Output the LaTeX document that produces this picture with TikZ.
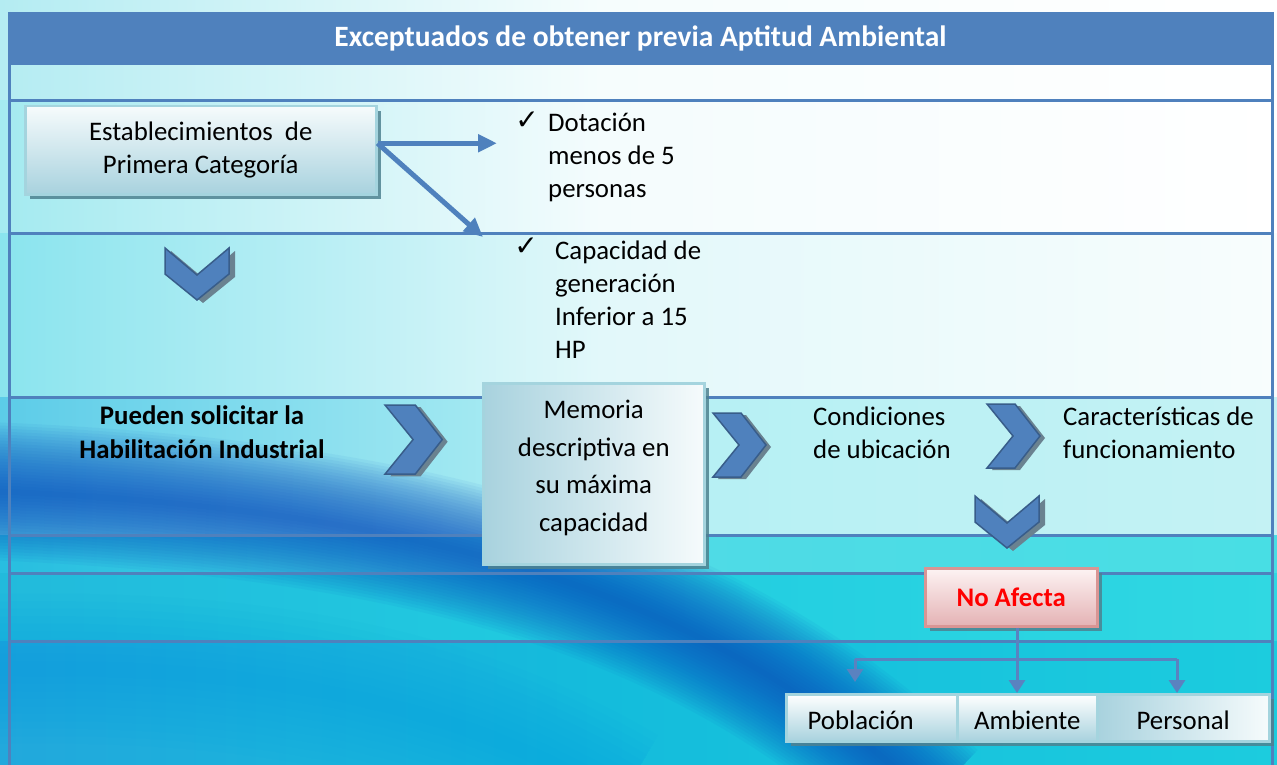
\documentclass[tikz,border=0pt]{standalone}
\usepackage{fontspec}
\setmainfont{Carlito}
\newfontfamily\symbfont{DejaVu Sans}
\usetikzlibrary{arrows.meta,calc,shadows}

\definecolor{hdrblue}{HTML}{4F81BD}
\definecolor{chevedge}{HTML}{385D8A}
\definecolor{chevshade}{HTML}{6A8290}
\definecolor{linkblue}{HTML}{5A82C0}
\definecolor{boxtop}{HTML}{F6FBFC}
\definecolor{boxbot}{HTML}{A8D2DE}
\definecolor{boxedge}{HTML}{A4D4DE}
\definecolor{shadowc}{HTML}{4E8290}
\definecolor{pinktop}{HTML}{FDF3F3}
\definecolor{pinkbot}{HTML}{E4B2B4}
\definecolor{pinkedge}{HTML}{D99594}
\definecolor{deepwave}{HTML}{0A50C0}
% backdrop, one band per table row: left / middle / right
\definecolor{bgA0}{HTML}{B4ECF2}\definecolor{bgB0}{HTML}{F6FDFD}\definecolor{bgC0}{HTML}{FFFFFF}
\definecolor{bgA1}{HTML}{A4EAF0}\definecolor{bgB1}{HTML}{F4FCFD}\definecolor{bgC1}{HTML}{FFFFFF}
\definecolor{bgA2}{HTML}{8AE4EE}\definecolor{bgB2}{HTML}{E2F8FA}\definecolor{bgC2}{HTML}{F8FDFD}
\definecolor{bgA3}{HTML}{5CCCE8}\definecolor{bgB3}{HTML}{B4F0F4}\definecolor{bgC3}{HTML}{C4F2F4}
\definecolor{bgA4}{HTML}{28BEE0}\definecolor{bgB4}{HTML}{50DAE6}\definecolor{bgC4}{HTML}{48DEE4}
\definecolor{bgA5}{HTML}{22BADC}\definecolor{bgB5}{HTML}{20CCE0}\definecolor{bgC5}{HTML}{30D8E2}
\definecolor{bgA6}{HTML}{22A8DC}\definecolor{bgB6}{HTML}{14BCDC}\definecolor{bgC6}{HTML}{1CCCDE}

\begin{document}
\begin{tikzpicture}[x=1pt,y=-1pt,>=Stealth,
    font=\fontsize{26.8}{33}\selectfont,
    rowline/.style={hdrblue,line width=3pt},
    panel/.style={draw=boxedge,line width=2.5pt,anchor=north west,
      inner sep=0pt,align=center,
      drop shadow={shadow xshift=5pt,shadow yshift=-5pt,fill=shadowc,opacity=.85}},
    chevron/.style={fill=hdrblue,draw=chevedge,line width=1.5pt},
    bigarrow/.style={hdrblue,line width=5pt,-{Triangle[length=19pt,width=17pt]}},
    conn/.style={linkblue,line width=3pt},
    arrowend/.style={-{Triangle[length=13pt,width=16pt]}},
    tick/.style={font=\symbfont\fontsize{28}{28}\selectfont,inner sep=0pt},
    itemtext/.style={align=left,anchor=west,inner sep=0pt},
    chevr/.pic={
      \fill[chevshade] (5,2) -- (33,2) -- (58,34) -- (33,66) -- (5,66) -- (31,34) -- cycle;
      \filldraw[chevron] (0,0) -- (28,0) -- (53,32) -- (28,64) -- (0,64) -- (26,32) -- cycle;},
    chevd/.pic={
      \fill[chevshade] (6,3) -- (38,30) -- (70,3) -- (70,29) -- (38,55) -- (6,29) -- cycle;
      \filldraw[chevron] (0,0) -- (32,27) -- (64,0) -- (64,26) -- (32,52) -- (0,26) -- cycle;}]
  \useasboundingbox (0,0) rectangle (1277,765);
  % backdrop
  \foreach \ya/\yb/\i in {0/101/0,101/233/1,233/397/2,397/535/3,535/573/4,573/641/5,641/765/6} {
    \shade[left color=bgA\i,right color=bgB\i] (0,\ya) rectangle (601,\yb);
    \shade[left color=bgB\i,right color=bgC\i] (600,\ya) rectangle (1277,\yb);
  }
  \foreach \w in {15,30,...,150}
    \draw[deepwave!55!cyan,line width=\w,opacity=.05] (-40,670) .. controls (250,660) and (450,700) .. (620,800);
  \foreach \w in {6,12,...,138}
    \draw[deepwave,line width=\w,opacity=.055] (-40,490) .. controls (400,505) and (700,580) .. (930,800);

  % table
  \node[fill=hdrblue,minimum width=1263,minimum height=53,inner sep=0pt,
    text=white,font=\fontsize{29.5}{33}\selectfont\bfseries] (title) at (640.5,38.5)
    {Exceptuados de obtener previa Aptitud Ambiental};
  \foreach \y in {101,233,397,535,573,641}
    \draw[rowline] (9,\y) -- (1272,\y);
  \draw[rowline] (9,12) -- (9,765) (1272,12) -- (1272,765);

  \node[panel,top color=boxtop,bottom color=boxbot,minimum width=351,minimum height=88]
    (estab) at (24,105) {Establecimientos\ \ de\\Primera Categoría};
  \coordinate (fork) at ([yshift=7pt]estab.east);
  \coordinate (dotTip) at (497,142);
  \coordinate (capTip) at (483,237);
  \draw[bigarrow] (fork) -- (fork -| dotTip);
  \draw[bigarrow] (fork) -- (capTip);

  \node[tick] (tick1) at (527,121) {✓};
  \node[tick] (tick2) at (526,247) {✓};
  \node[itemtext] (dotacion) at (548,157) {Dotación\\menos de 5\\personas};
  \node[itemtext] (capacidad) at (555,300) {Capacidad de\\generación\\Inferior a 15\\HP};

  \pic at (165,248) {chevd};
  \node[align=center,font=\fontsize{26.8}{34}\selectfont\bfseries] (pueden) at (202,432)
    {Pueden solicitar la\\Habilitación Industrial};
  \pic[scale=1.08] at (385,405) {chevr};
  \node[panel,left color=boxbot,right color=boxtop,minimum width=221,minimum height=181,
    text depth=16pt,font=\fontsize{26.8}{37.5}\selectfont] (memoria) at (482,382)
    {Memoria\\descriptiva en\\su máxima\\capacidad};
  \pic at (713,413) {chevr};
  \node[itemtext] (condic) at (813,433) {Condiciones\\de ubicación};
  \pic at (987,404) {chevr};
  \node[itemtext] (caract) at (1063,433) {Características de\\funcionamiento};
  \pic at (975,496) {chevd};

  \node[panel,draw=pinkedge,top color=pinktop,bottom color=pinkbot,minimum width=172,
    minimum height=58,text=red,font=\fontsize{26.8}{33}\selectfont\bfseries]
    (noafecta) at (924,567) {No Afecta};

  \node[panel,top color=white,bottom color=boxbot,minimum width=171,minimum height=47,
    text height=24pt,text depth=0pt] (poblacion) at (785,693) {Población\hspace*{22pt}};
  \node[panel,top color=white,bottom color=boxbot,minimum width=140,minimum height=47,
    text height=24pt,text depth=0pt] (ambiente) at (956,693) {Ambiente};
  \node[panel,left color=boxbot,right color=boxtop,minimum width=172,minimum height=47,
    text height=24pt,text depth=0pt] (personal) at (1096,693) {Personal};

  \coordinate (split) at (1017,659);
  \coordinate (lft) at (855,659);
  \coordinate (rgt) at (1177,659);
  \draw[conn,arrowend] (noafecta.south -| split) -- (ambiente.north -| split);
  \draw[conn] (lft) -- (rgt);
  \draw[conn,arrowend] (lft) -- ++(0,23);
  \draw[conn,arrowend] (rgt) -- (rgt |- personal.north);
\end{tikzpicture}
\end{document}
